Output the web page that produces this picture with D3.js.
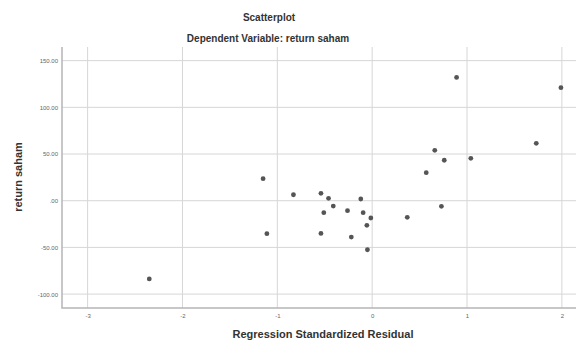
<!DOCTYPE html>
<html>
<head>
<meta charset="utf-8">
<script src="https://cdn.jsdelivr.net/npm/d3@7"></script>
<style>
  body { margin: 0; background: #fff; }
  svg { display: block; font-family: "Liberation Sans", Arial, sans-serif; }
</style>
</head>
<body>
<svg id="chart" width="576" height="341"></svg>
<script>
// residuals (x) and return saham (y)
let residuals = [-2.35, -1.15, -1.11, -0.83, -0.54, -0.54, -0.51, -0.46, -0.41, -0.26, -0.22, -0.12, -0.095, -0.056, -0.05, -0.014, 0.37, 0.57, 0.66, 0.73, 0.76, 0.89, 1.04, 1.73, 1.99];
let returns = [-83.8, 23.6, -35.3, 6.4, 7.9, -35, -12.8, 2.6, -5.7, -10.7, -38.9, 1.8, -12.8, -26.4, -52.5, -18.5, -17.8, 30, 54, -6, 43.3, 132, 45.4, 61.5, 121];
let xTicks = [-3, -2, -1, 0, 1, 2];
let xTickLabels = ['-3', '-2', '-1', '0', '1', '2'];
let yTicks = [-100, -50, 0, 50, 100, 150];
let yTickLabels = ['-100.00', '-50.00', '.00', '50.00', '100.00', '150.00'];

let svg = d3.select('#chart');
let plotLeft = 62, plotRight = 578, plotTop = 47, plotBottom = 308;

let x = d3.scaleLinear().domain([-3.27, 2.17]).range([plotLeft, plotRight]);
let y = d3.scaleLinear().domain([-114.9, 164.6]).range([plotBottom, plotTop]);

// grid
svg.append('g')
  .selectAll('line')
  .data(yTicks)
  .join('line')
  .attr('x1', plotLeft).attr('x2', plotRight)
  .attr('y1', d => y(d)).attr('y2', d => y(d))
  .attr('stroke', '#d6d6d6').attr('stroke-width', 1);

svg.append('g')
  .selectAll('line')
  .data(xTicks)
  .join('line')
  .attr('y1', plotTop).attr('y2', plotBottom)
  .attr('x1', d => x(d)).attr('x2', d => x(d))
  .attr('stroke', '#d6d6d6').attr('stroke-width', 1);

// frame (left and bottom)
svg.append('path')
  .attr('d', `M${plotLeft},${plotTop}V${plotBottom}H${plotRight}`)
  .attr('fill', 'none')
  .attr('stroke', '#b5b5b5')
  .attr('stroke-width', 1.5);

// axes labels
let xAxis = d3.axisBottom(x).tickValues(xTicks).tickSize(0).tickPadding(6)
  .tickFormat((d, i) => xTickLabels[i]);
let gx = svg.append('g').attr('transform', `translate(0,${plotBottom})`).call(xAxis);
gx.select('.domain').remove();
gx.selectAll('text').attr('fill', '#666').style('font-size', '6px');

let yAxis = d3.axisLeft(y).tickValues(yTicks).tickSize(0).tickPadding(4)
  .tickFormat((d, i) => yTickLabels[i]);
let gy = svg.append('g').attr('transform', `translate(${plotLeft},0)`).call(yAxis);
gy.select('.domain').remove();
gy.selectAll('text').attr('fill', '#666').style('font-size', '6px');

// points
svg.append('g')
  .selectAll('circle')
  .data(residuals)
  .join('circle')
  .attr('cx', d => x(d))
  .attr('cy', (d, i) => y(returns[i]))
  .attr('r', 2.4)
  .attr('fill', '#555');

// titles
svg.append('text').attr('x', 269).attr('y', 21)
  .attr('text-anchor', 'middle').attr('font-weight', 'bold')
  .attr('font-size', 10).attr('fill', '#333').text('Scatterplot');
svg.append('text').attr('x', 268).attr('y', 42)
  .attr('text-anchor', 'middle').attr('font-weight', 'bold')
  .attr('font-size', 10).attr('fill', '#333').text('Dependent Variable: return saham');
svg.append('text').attr('x', 323).attr('y', 338)
  .attr('text-anchor', 'middle').attr('font-weight', 'bold')
  .attr('font-size', 11).attr('fill', '#333').text('Regression Standardized Residual');
svg.append('text')
  .attr('transform', 'translate(22,177) rotate(-90)')
  .attr('text-anchor', 'middle').attr('font-weight', 'bold')
  .attr('font-size', 11).attr('fill', '#333').text('return saham');
</script>
</body>
</html>
